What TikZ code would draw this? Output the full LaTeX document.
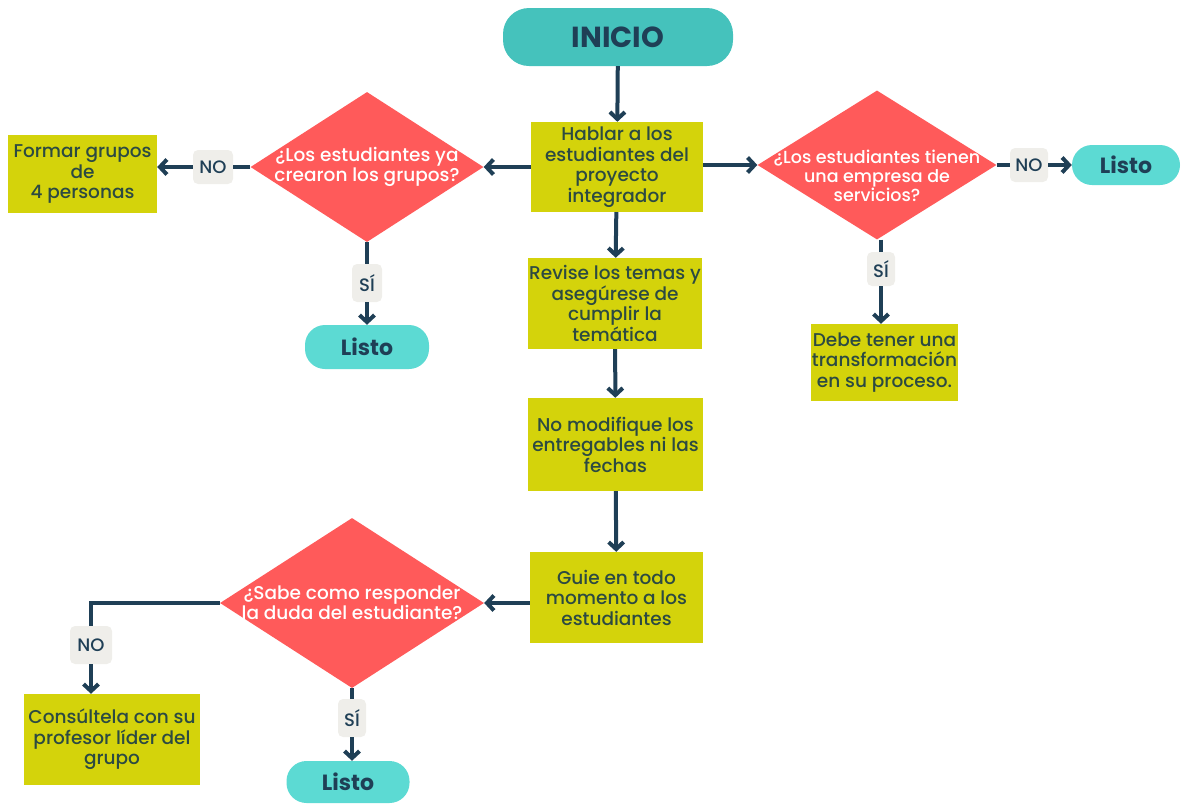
\documentclass[tikz,border=0pt]{standalone}
\usepackage{fontspec}
\setmainfont{Poppins Medium}[BoldFont=Poppins Bold]
\usetikzlibrary{shapes.geometric,arrows.meta}

\definecolor{navy}{HTML}{1F3F56}
\definecolor{tealA}{HTML}{45C2BC}
\definecolor{tealB}{HTML}{5CDAD3}
\definecolor{amarillo}{HTML}{D4D30B}
\definecolor{rojo}{HTML}{FF5A5A}
\definecolor{gris}{HTML}{EFEEEA}
\definecolor{textocaja}{HTML}{2C4A42}

\tikzset{
  paso/.style={rectangle, fill=amarillo, text=textocaja, align=center, inner sep=0pt,
    font=\fontsize{18.5}{20.5}\selectfont},
  pregunta/.style={diamond, fill=rojo, inner sep=0pt},
  preguntatxt/.style={text=white, align=center, inner sep=0pt,
    font=\fontsize{18.5}{20}\selectfont},
  fin/.style={rectangle, rounded corners=20pt, fill=tealB, text=navy, inner sep=0pt,
    font=\fontsize{22}{22}\selectfont\bfseries},
  etiqueta/.style={rectangle, rounded corners=5pt, fill=gris, text=navy, inner sep=0pt,
    font=\fontsize{18}{18}\selectfont},
  linea/.style={draw=navy, line width=4pt},
  flujo/.style={linea, -{Straight Barb[length=7pt,width=15pt]}}
}

\begin{document}
\begin{tikzpicture}[x=1pt,y=-1pt]
\useasboundingbox (0,0) rectangle (1181,804);

% inicio
\node[fin, fill=tealA, rounded corners=26pt, minimum width=230pt, minimum height=58pt,
  font=\fontsize{29}{29}\selectfont\bfseries] (inicio) at (618,37) {INICIO};

% columna central
\node[paso, minimum width=172pt, minimum height=90pt] (hablar) at (617,167)
  {Hablar a los\\estudiantes del\\proyecto\\integrador};
\node[paso, minimum width=174pt, minimum height=91pt] (revise) at (615,303.5)
  {Revise los temas y\\asegúrese de\\cumplir la\\temática};
\node[paso, minimum width=175pt, minimum height=93pt] (nomod) at (615.5,444.5)
  {No modifique los\\entregables ni las\\fechas};
\node[paso, minimum width=173pt, minimum height=91pt] (guie) at (616.5,597.5)
  {Guie en todo\\momento a los\\estudiantes};

% pregunta izquierda
\node[pregunta, minimum width=233pt, minimum height=150pt] (grupos) at (367,167) {};
\node[preguntatxt] (grupostxt) at (grupos) {¿Los estudiantes ya\\crearon los grupos?};
\node[paso, minimum width=149pt, minimum height=78pt] (formar) at (82.5,174)
  {Formar grupos\\de\\4 personas};
\node[etiqueta, minimum width=40pt, minimum height=34pt] (no1) at (213,167) {NO};
\node[etiqueta, minimum width=30pt, minimum height=38pt] (si1) at (367,283) {SÍ};
\node[fin, minimum width=124pt, minimum height=44pt] (listo1) at (367,347) {Listo};

% pregunta derecha
\node[pregunta, minimum width=239pt, minimum height=149pt] (empresa) at (877,165) {};
\node[preguntatxt, yshift=-11pt, font=\fontsize{17.5}{19}\selectfont] (empresatxt) at (empresa)
  {¿Los estudiantes tienen\\una empresa de\\servicios?};
\node[etiqueta, minimum width=38pt, minimum height=34pt] (no2) at (1029,165) {NO};
\node[fin, minimum width=108pt, minimum height=40pt] (listo2) at (1126,165) {Listo};
\node[etiqueta, minimum width=28pt, minimum height=34pt] (si2) at (881,269) {SÍ};
\node[paso, minimum width=147pt, minimum height=77pt] (debe) at (884.5,362.5)
  {Debe tener una\\transformación\\en su proceso.};

% pregunta inferior
\node[pregunta, minimum width=264pt, minimum height=170pt] (duda) at (352,603) {};
\node[preguntatxt] (dudatxt) at (duda) {¿Sabe como responder\\la duda del estudiante?};
\node[etiqueta, minimum width=42pt, minimum height=38pt] (no3) at (91,645) {NO};
\node[paso, minimum width=176pt, minimum height=91pt] (cons) at (112,739.5)
  {Consúltela con su\\profesor líder del\\grupo};
\node[etiqueta, minimum width=28pt, minimum height=38pt] (si3) at (352,718) {SÍ};
\node[fin, minimum width=123pt, minimum height=42pt] (listo3) at (348,782) {Listo};

% conectores
\draw[flujo] (inicio) -- (hablar);
\draw[flujo] (hablar) -- (revise);
\draw[flujo] (revise) -- (nomod);
\draw[flujo] (nomod) -- (guie);

\draw[flujo] (hablar.west) -- (grupos.east);
\draw[linea] (grupos.west) -- (no1.east);
\draw[flujo] (no1.west) -- (no1.west -| formar.east);
\draw[linea] (grupos.south) -- (si1.north);
\draw[flujo] (si1.south) -- (listo1.north);

\draw[flujo] (hablar.east |- empresa.west) -- (empresa.west);
\draw[linea] (empresa.east) -- (no2.west);
\draw[flujo] (no2.east) -- (listo2.west);
\draw[linea] (empresa.south -| si2) -- (si2.north);
\draw[flujo] (si2.south) -- (si2.south |- debe.north);

\draw[flujo] (guie.west |- duda.east) -- (duda.east);
\draw[linea] (duda.west) -| (no3.north);
\draw[flujo] (no3.south) -- (no3.south |- cons.north);
\draw[linea] (duda.south) -- (si3.north);
\draw[flujo] (si3.south) -- (si3.south |- listo3.north);

\end{tikzpicture}
\end{document}
